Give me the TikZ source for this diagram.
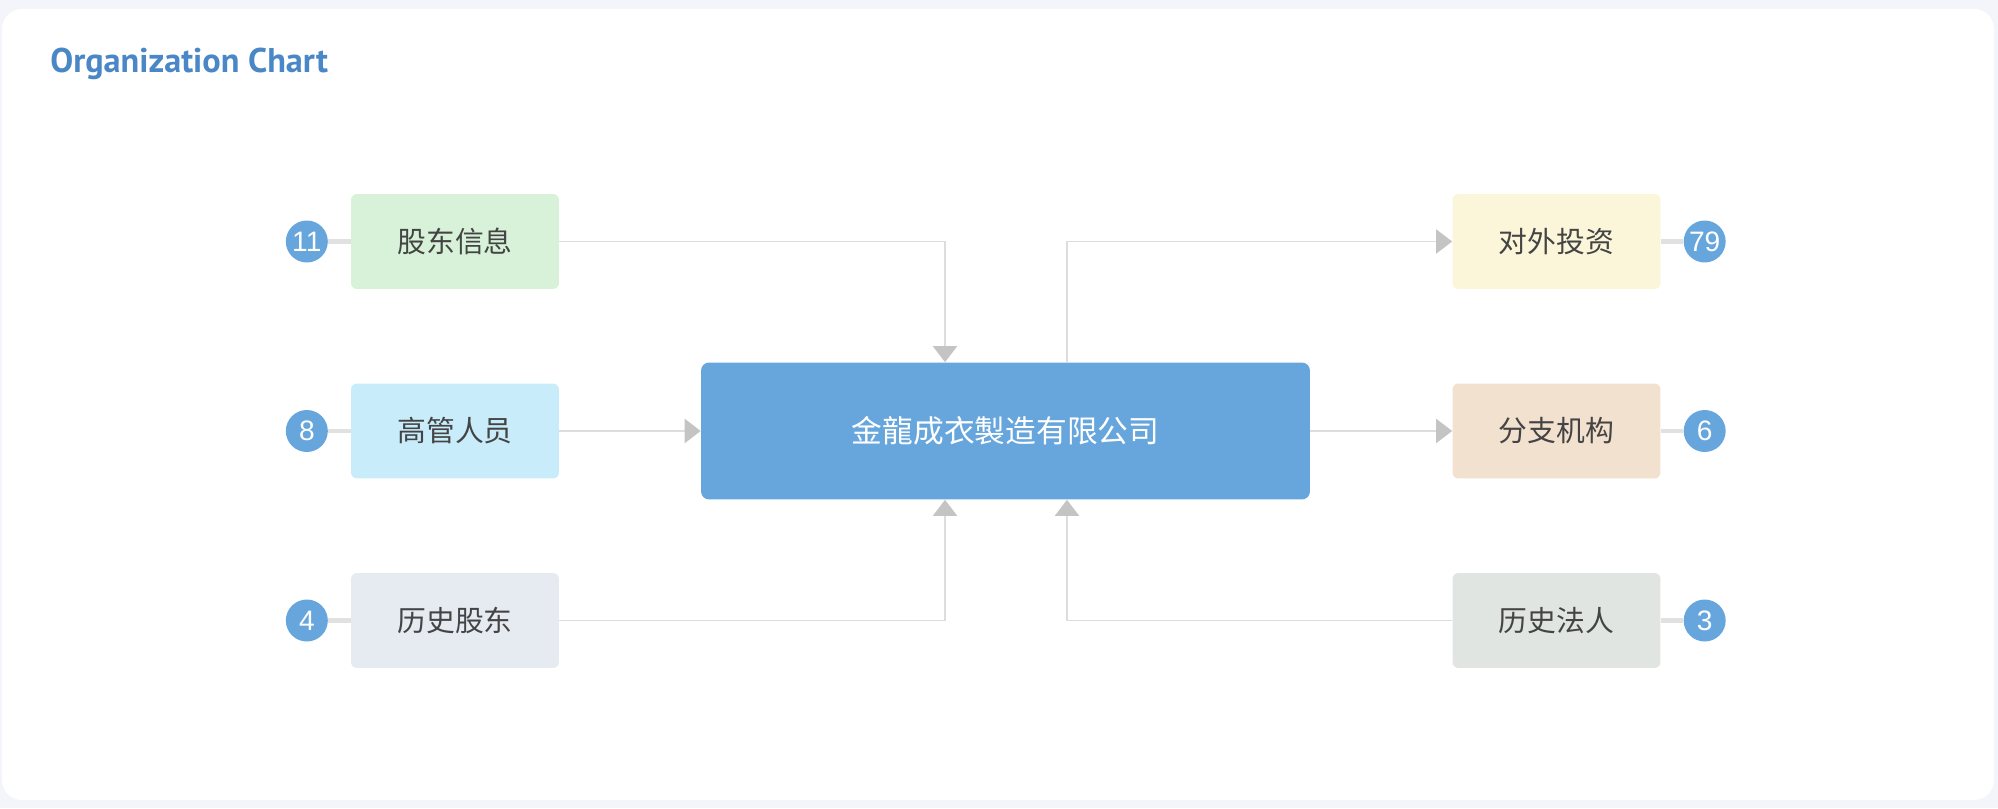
\documentclass[tikz,border=0pt]{standalone}
\usepackage{fontspec}
\setmainfont{Liberation Sans}
\newfontfamily\cjk{Noto Sans CJK SC}
\newfontfamily\titlefont{PT Sans}
\usetikzlibrary{arrows.meta}
\usetikzlibrary{positioning}

\definecolor{pagegray}{HTML}{F4F5FA}
\definecolor{titleblue}{HTML}{4A87C6}
\definecolor{hubblue}{HTML}{67A6DC}
\definecolor{badgeblue}{HTML}{67A6DD}
\definecolor{textgray}{HTML}{444444}
\definecolor{linegray}{HTML}{DDDDDD}
\definecolor{stemgray}{HTML}{E1E1E1}
\definecolor{tipgray}{HTML}{C4C4C4}
\definecolor{shgreen}{HTML}{D7F2D9}
\definecolor{execblue}{HTML}{C8ECFA}
\definecolor{pastshgray}{HTML}{E6EBF2}
\definecolor{investyellow}{HTML}{FBF6D9}
\definecolor{branchpeach}{HTML}{F3E1CF}
\definecolor{pastrepgray}{HTML}{E0E5E1}

\begin{document}
\begin{tikzpicture}
[x=0.02cm,y=-0.02cm,
  boxdecorate/.style={shape=rectangle,rounded corners=0.12cm,minimum width=4.16cm,
    minimum height=1.9cm,inner sep=0pt,text=textgray,font=\cjk\fontsize{16.4}{18}\selectfont},
  hubdecorate/.style={shape=rectangle,rounded corners=0.16cm,minimum width=12.18cm,
    minimum height=2.74cm,inner sep=0pt,fill=hubblue,text=white,font=\cjk\fontsize{17.5}{20}\selectfont},
  badgedecorate/.style={shape=circle,fill=badgeblue,minimum size=0.84cm,inner sep=0pt,
    text=white,font=\fontsize{16}{18}\selectfont},
  linedecorate/.style={draw=linegray,line width=1.1pt},
  arrowdecorate/.style={linedecorate,-{Triangle[length=0.32cm,width=0.48cm,color=tipgray]}},
  stemdecorate/.style={draw=stemgray,line width=2.8pt},
  node distance=0.45cm]
\useasboundingbox (0,0) rectangle (1998,808);
%% card
\fill[pagegray] (0,0) rectangle (1998,808);
\fill[white,rounded corners=0.4cm] (2,9) rectangle (1994,800);
\node (title) at (50,72) [anchor=base west,inner sep=0pt,text=titleblue,
  font=\titlefont\bfseries\fontsize{19.5}{22}\selectfont] {Organization Chart};
%% company
\node (hub) at (1005.5,431) [hubdecorate] {金龍成衣製造有限公司};
%% side boxes
\foreach \nodename/\x/\y/\shade/\caption in {sh/455/241.5/shgreen/股东信息,
  exec/455/431/execblue/高管人员, pastsh/455/620.5/pastshgray/历史股东,
  invest/1556.5/241.5/investyellow/对外投资, branch/1556.5/431/branchpeach/分支机构,
  pastrep/1556.5/620.5/pastrepgray/历史法人}
{
  \node (\nodename) at (\x,\y) [boxdecorate,fill=\shade] {\caption};
}
%% count badges
\foreach \nodename/\count/\direction/\side in {sh/11/left/west, exec/8/left/west,
  pastsh/4/left/west, invest/79/right/east, branch/6/right/east, pastrep/3/right/east}
{
  \node (\nodename-n) [badgedecorate,\direction=of \nodename] {\count};
  \draw[stemdecorate] (\nodename-n) -- (\nodename.\side);
}
%% links
\draw[arrowdecorate] (sh.east) -| ([xshift=-1.21cm]hub.north);
\draw[arrowdecorate] (exec) -- (hub);
\draw[arrowdecorate] (pastsh.east) -| ([xshift=-1.21cm]hub.south);
\draw[arrowdecorate] ([xshift=1.23cm]hub.north) |- (invest.west);
\draw[arrowdecorate] (hub) -- (branch);
\draw[arrowdecorate] (pastrep.west) -| ([xshift=1.23cm]hub.south);
\end{tikzpicture}
\end{document}
